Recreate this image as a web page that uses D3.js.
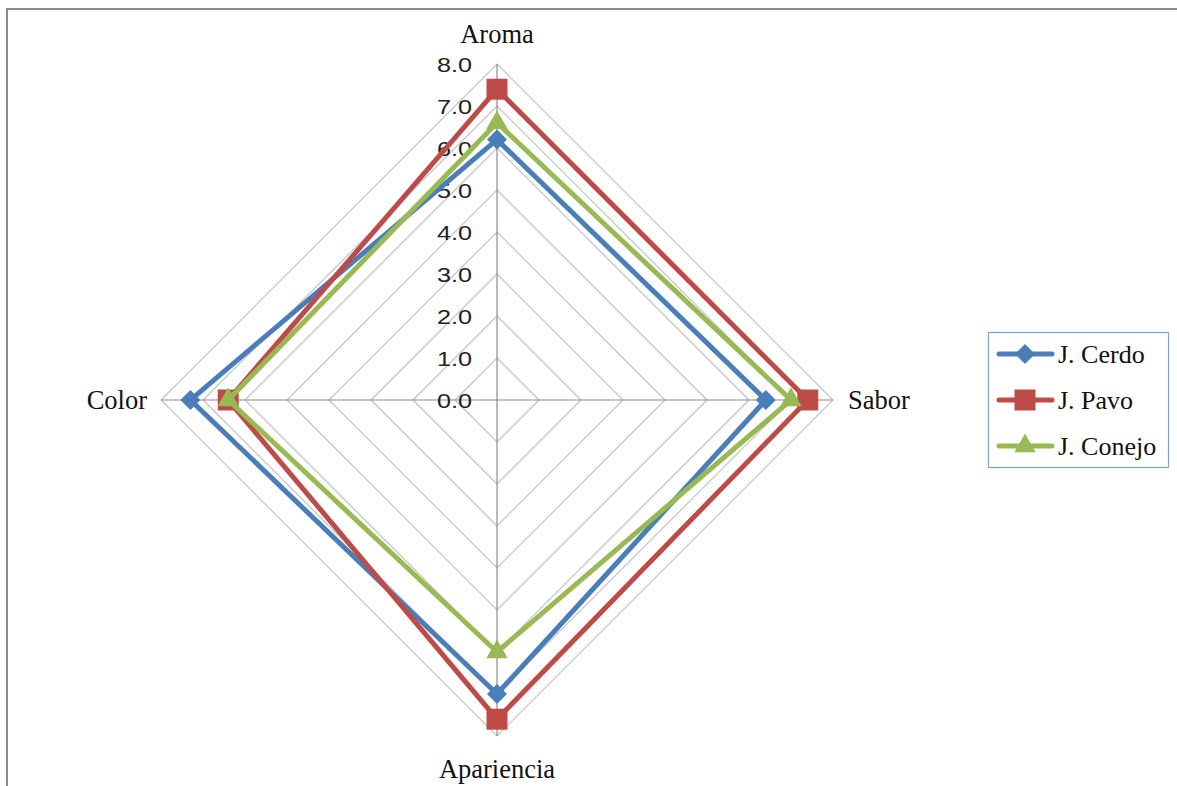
<!DOCTYPE html>
<html lang="es">
<head>
<meta charset="utf-8">
<title>Radar</title>
<script src="https://cdn.jsdelivr.net/npm/d3@7"></script>
<style>
  body { margin: 0; background: #fff; }
  svg { display: block; font-family: "Liberation Serif", "Times New Roman", serif; }
</style>
</head>
<body>
<script>
// data
var categories = ["Aroma", "Sabor", "Apariencia", "Color"];
var seriesNames = ["J. Cerdo", "J. Pavo", "J. Conejo"];
var cerdo  = [6.2, 6.4, 7.0, 7.3];
var pavo   = [7.4, 7.4, 7.6, 6.4];
var conejo = [6.6, 7.0, 6.0, 6.4];
var tickLabels = ["0.0", "1.0", "2.0", "3.0", "4.0", "5.0", "6.0", "7.0", "8.0"];

var seriesValues = [cerdo, pavo, conejo];
var colors = ["#4a7ebb", "#be4b48", "#98b954"];
var shapes = [d3.symbolSquare, d3.symbolSquare, d3.symbolTriangle];
var sizes = [200, 440, 200];
var rotations = [45, 0, 0];

var w = 1177, h = 786;
var cx = 497, cy = 400;
var rScale = d3.scaleLinear().domain([0, 8]).range([0, 336]);

var svg = d3.select("body").append("svg")
    .attr("width", w).attr("height", h);

// frame
svg.append("path")
    .attr("d", "M7," + h + " V9 H" + w)
    .attr("fill", "none")
    .attr("stroke", "#8c8c8c")
    .attr("stroke-width", 2);

var angle = function(i) { return i * Math.PI / 2 - Math.PI / 2; };
var pt = function(i, v) {
  var a = angle(i);
  return [cx + rScale(v) * Math.cos(a), cy + rScale(v) * Math.sin(a)];
};

// grid rings
var ticks = d3.range(1, 9);
svg.selectAll(".ring").data(ticks).enter().append("polygon")
    .attr("points", function(t) {
      return categories.map(function(c, i) { return pt(i, t).join(","); }).join(" ");
    })
    .attr("fill", "none")
    .attr("stroke", "#c0c0c0")
    .attr("stroke-width", 1.2);

// spokes
svg.selectAll(".spoke").data(categories).enter().append("line")
    .attr("x1", cx).attr("y1", cy)
    .attr("x2", function(d, i) { return pt(i, 8)[0]; })
    .attr("y2", function(d, i) { return pt(i, 8)[1]; })
    .attr("stroke", "#8c8c8c")
    .attr("stroke-width", 1.2);

// tick labels (a bit stretched sideways like the original)
svg.selectAll(".tick").data(tickLabels).enter().append("text")
    .attr("transform", function(d, i) { return "translate(472," + (cy - rScale(i)) + ") scale(1.2,1)"; })
    .attr("dy", "0.36em")
    .attr("text-anchor", "end")
    .attr("font-family", "'Liberation Sans', Arial, sans-serif")
    .attr("font-size", 21)
    .attr("fill", "#222")
    .text(function(d) { return d; });

// category labels
var catPos = [
  {x: cx, y: 34, anchor: "middle"},
  {x: 848, y: cy, anchor: "start"},
  {x: cx, y: 769, anchor: "middle"},
  {x: 147, y: cy, anchor: "end"}
];
svg.selectAll(".cat").data(categories).enter().append("text")
    .attr("x", function(d, i) { return catPos[i].x; })
    .attr("y", function(d, i) { return catPos[i].y; })
    .attr("dy", "0.35em")
    .attr("text-anchor", function(d, i) { return catPos[i].anchor; })
    .attr("font-size", 26.5)
    .attr("fill", "#111")
    .text(function(d) { return d; });

// series
var line = d3.line().curve(d3.curveLinearClosed);
seriesValues.forEach(function(vals, s) {
  var g = svg.append("g");
  g.append("path")
      .attr("d", line(vals.map(function(v, i) { return pt(i, v); })))
      .attr("fill", "none")
      .attr("stroke", colors[s])
      .attr("stroke-width", 5)
      .attr("stroke-linejoin", "miter");
  g.selectAll("path.m").data(vals).enter().append("path")
      .attr("class", "m")
      .attr("transform", function(v, i) {
        var p = pt(i, v);
        return "translate(" + p[0] + "," + p[1] + ") rotate(" + rotations[s] + ")";
      })
      .attr("d", d3.symbol().type(shapes[s]).size(sizes[s]))
      .attr("fill", colors[s]);
});

// legend
var lg = svg.append("g");
lg.append("rect")
    .attr("x", 988.5).attr("y", 332.5)
    .attr("width", 180).attr("height", 135)
    .attr("fill", "#fff")
    .attr("stroke", "#7f9fcf")
    .attr("stroke-width", 1.2);
seriesNames.forEach(function(name, s) {
  var y = 354 + s * 46;
  lg.append("line")
      .attr("x1", 999).attr("x2", 1052)
      .attr("y1", y).attr("y2", y)
      .attr("stroke", colors[s])
      .attr("stroke-width", 5)
      .attr("stroke-linecap", "round");
  lg.append("path")
      .attr("transform", "translate(1025," + y + ") rotate(" + rotations[s] + ")")
      .attr("d", d3.symbol().type(shapes[s]).size(sizes[s]))
      .attr("fill", colors[s]);
  lg.append("text")
      .attr("x", 1058).attr("y", y)
      .attr("dy", "0.35em")
      .attr("font-size", 26)
      .attr("fill", "#111")
      .text(name);
});
</script>
</body>
</html>
